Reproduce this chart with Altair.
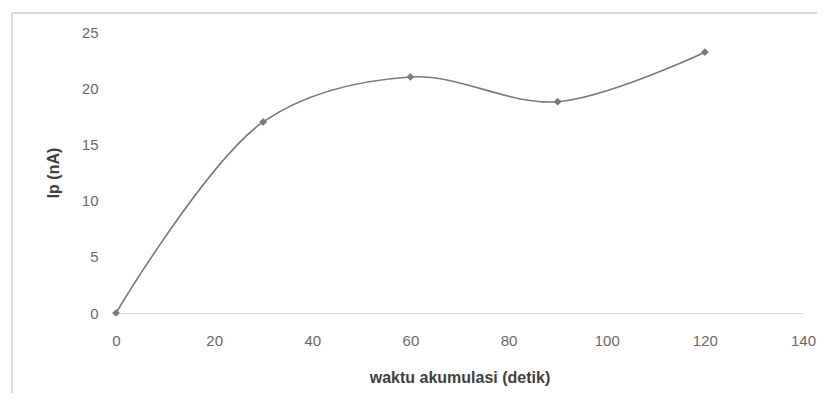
import altair as alt
import pandas as pd

waktu = [0, 30, 60, 90, 120]
ip = [0, 17.0, 21.0, 18.8, 23.2]
x_ticks = [0, 20, 40, 60, 80, 100, 120, 140]
y_ticks = [0, 5, 10, 15, 20, 25]

df = pd.DataFrame({"waktu": waktu, "ip": ip})

W, H = 687, 281
FONT = "Liberation Sans"

x_enc = alt.X("waktu:Q", scale=alt.Scale(domain=[0, 140], nice=False),
              axis=alt.Axis(values=x_ticks, title="waktu akumulasi (detik)", grid=False,
                            ticks=False, domain=True, domainColor="#d9d9d9", domainWidth=1,
                            labelFlush=False, labelOverlap=False,
                            labelPadding=20, labelColor="#6a6a6a", labelFontSize=15,
                            labelFont=FONT, titleFont=FONT, titleFontSize=16,
                            titleFontWeight="bold", titleColor="#404040",
                            titleY=64, titleBaseline="middle"))
y_enc = alt.Y("ip:Q", scale=alt.Scale(domain=[0, 25], nice=False),
              axis=alt.Axis(values=y_ticks, title="Ip (nA)", grid=False, ticks=False,
                            domain=False, labelPadding=18, labelColor="#6a6a6a",
                            labelFlush=False, labelOverlap=False,
                            labelFontSize=15, labelFont=FONT, titleFont=FONT,
                            titleFontSize=16, titleFontWeight="bold", titleColor="#404040",
                            titleX=-63, titleY=H / 2, titleAngle=270,
                            titleAlign="center", titleBaseline="middle"))

border = alt.Chart(pd.DataFrame({"a": [0]})).mark_rect(
    fill="white", fillOpacity=0, stroke="#cfcfcf", strokeWidth=1.5
).encode(x=alt.value(-104), x2=alt.value(740), y=alt.value(-19), y2=alt.value(400))

line = alt.Chart(df).mark_line(interpolate="catmull-rom", color="#7a7a7a",
                               strokeWidth=1.6).encode(x=x_enc, y=y_enc)
pts = alt.Chart(df).mark_point(shape="diamond", filled=True, color="#7a7a7a",
                               size=60, opacity=1).encode(x="waktu:Q", y="ip:Q")

chart = alt.layer(border, line, pts).properties(
    width=W, height=H,
    background="white",
    autosize=alt.AutoSizeParams(type="none"),
    padding={"left": 108, "top": 24, "right": 14, "bottom": 80},
).configure_view(stroke=None)

chart.save("out.html", embed_options={"renderer": "svg", "actions": False})
